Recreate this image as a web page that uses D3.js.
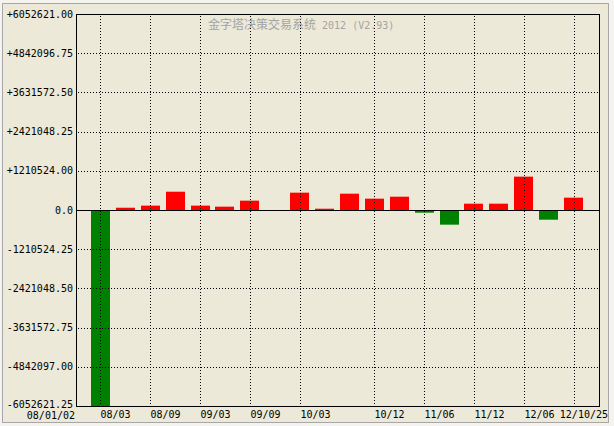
<!DOCTYPE html>
<html>
<head>
<meta charset="utf-8">
<script src="https://cdn.jsdelivr.net/npm/d3@7"></script>
<style>
  html, body { margin: 0; padding: 0; background: #F4F3EE; }
  svg { display: block; }
</style>
</head>
<body>
<svg id="chart" width="614" height="426"></svg>
<script>
// ---- data ----
const periods = ["08/01/02","08/03","08/06","08/09","08/12","09/03","09/06","09/09","09/12",
  "10/03","10/06","10/09","10/12","11/03","11/06","11/09","11/12","12/03","12/06","12/09","12/12","12/10/25"];
const values = [null, -6052621.25, 70000, 135000, 565000, 135000, 103000, 288000, 0,
  535000, 40000, 504000, 350000, 411000, -83000, -453000, 195000, 195000, 1030000, -300000, 381000, null];
const yTickValues = [6052621.00, 4842096.75, 3631572.50, 2421048.25, 1210524.00, 0,
  -1210524.25, -2421048.50, -3631572.75, -4842097.00, -6052621.25];
const yTickLabels = ["+6052621.00","+4842096.75","+3631572.50","+2421048.25","+1210524.00","0.0",
  "-1210524.25","-2421048.50","-3631572.75","-4842097.00","-6052621.25"];
const xLabelIdx = [1, 3, 5, 7, 9, 12, 14, 16, 18];
const xGridIdx = [1, 3, 5, 7, 9, 12, 14, 16, 18, 20];
const startLabel = "08/01/02";
const endLabel = "12/10/25";
const titleCJK = "金字塔决策交易系统";
const titleLatin = " 2012 (V2.93)";

// ---- layout ----
const svg = d3.select("#chart");
const L = 76, R = 599, T = 14, B = 406;
const mono = "'DejaVu Sans Mono', monospace";

// outer frame
svg.append("rect").attr("x", 2.5).attr("y", 3.5).attr("width", 606).attr("height", 419)
  .attr("fill", "#ECE9D8").attr("stroke", "#A7A6AA");

const x = d3.scalePoint().domain(d3.range(periods.length)).range([75.5, 598.5]);
const y = d3.scaleLinear().domain([-6052621.25, 6052621.00]).range([B, T]);
const barW = 19;

// bars
const barData = values.map((v, i) => ({ i, v })).filter(d => d.v !== null && d.v !== 0);
svg.append("g").selectAll("rect").data(barData).join("rect")
  .attr("x", d => Math.round(x(d.i) - barW / 2))
  .attr("width", barW)
  .attr("y", d => y(Math.max(0, d.v)))
  .attr("height", d => Math.abs(y(d.v) - y(0)))
  .attr("fill", d => d.v >= 0 ? "#FF0000" : "#008000");

// grid (drawn over bars)
const grid = svg.append("g").attr("stroke", "#000").attr("stroke-width", 1).attr("stroke-dasharray", "1,2");
grid.selectAll("line.h").data(yTickValues.filter(v => v !== 0 && v !== yTickValues[0] && v !== yTickValues[yTickValues.length - 1]))
  .join("line").attr("class", "h")
  .attr("x1", L + 2).attr("x2", R)
  .attr("y1", d => Math.round(y(d)) + 0.5).attr("y2", d => Math.round(y(d)) + 0.5);
grid.selectAll("line.v").data(xGridIdx).join("line").attr("class", "v")
  .attr("x1", d => Math.round(x(d)) + 0.5).attr("x2", d => Math.round(x(d)) + 0.5)
  .attr("y1", T + 2).attr("y2", B);

// zero line
svg.append("line").attr("x1", L).attr("x2", R + 0.5)
  .attr("y1", Math.round(y(0)) + 0.5).attr("y2", Math.round(y(0)) + 0.5)
  .attr("stroke", "#000");

// plot frame
svg.append("rect").attr("x", L + 0.5).attr("y", T + 0.5).attr("width", R - L).attr("height", B - T)
  .attr("fill", "none").attr("stroke", "#000");

// y axis labels
const nY = yTickValues.length;
svg.append("g").selectAll("text").data(yTickValues).join("text")
  .attr("x", 73).attr("y", (d, i) => y(d) - (i === nY - 1 ? 1.5 : 0))
  .attr("dy", "0.36em")
  .attr("text-anchor", "end")
  .attr("font-family", mono).attr("font-size", 10).attr("fill", "#000")
  .text((d, i) => yTickLabels[i]);

// x axis labels
const xl = svg.append("g").attr("font-family", mono).attr("font-size", 10).attr("fill", "#000");
xl.selectAll("text.m").data(xLabelIdx).join("text").attr("class", "m")
  .attr("x", d => Math.round(x(d)) + 0.5).attr("y", 418)
  .text(d => periods[d]);
xl.append("text").attr("x", 75).attr("y", 418.5).attr("text-anchor", "end").text(startLabel);
xl.append("text").attr("x", 608).attr("y", 418).attr("text-anchor", "end").text(endLabel);

// title
const t = svg.append("text").attr("x", 208).attr("y", 29).attr("fill", "#A4A4A4");
t.append("tspan").attr("font-family", "'Noto Sans CJK SC', sans-serif").attr("font-size", 12).text(titleCJK);
t.append("tspan").attr("font-family", mono).attr("font-size", 10).attr("xml:space", "preserve").text(titleLatin);
</script>
</body>
</html>
